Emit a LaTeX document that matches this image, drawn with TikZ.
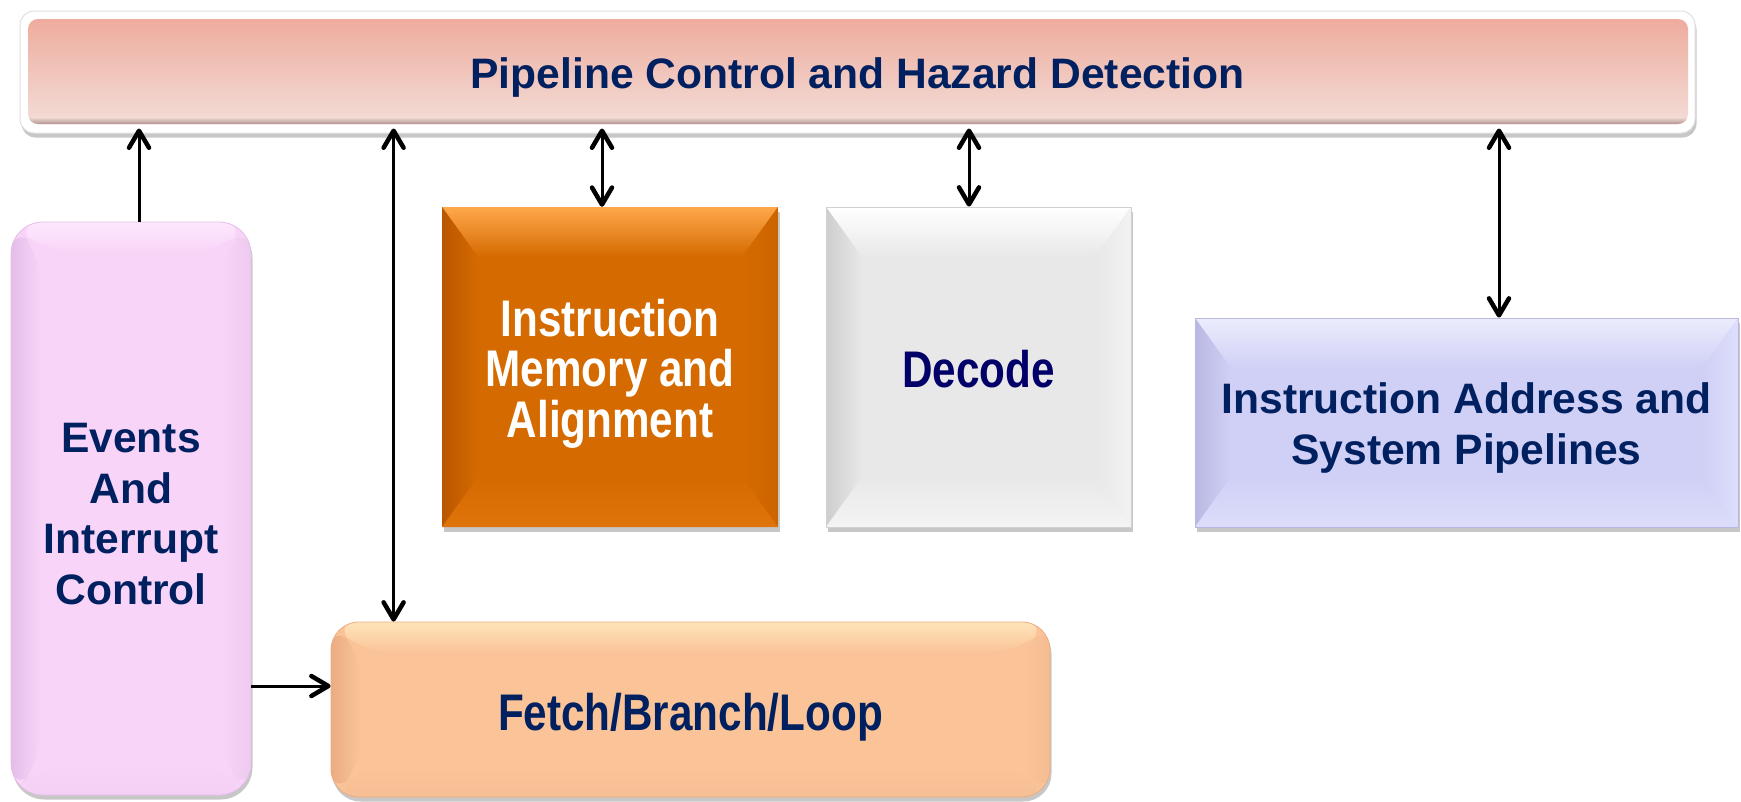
\documentclass[tikz,border=0pt]{standalone}
\usepackage{fontspec}
\setmainfont{Liberation Sans}
\newfontfamily\narrowsans[FakeStretch=0.82]{Liberation Sans}
\usetikzlibrary{arrows.meta,shadows,calc}

\definecolor{navy}{RGB}{0,32,96}
\definecolor{deepnavy}{RGB}{0,0,104}
% control bar
\definecolor{barTop}{RGB}{238,172,158}
\definecolor{barBot}{RGB}{243,221,215}
\definecolor{barRim}{RGB}{178,148,143}
% events
\definecolor{evBase}{RGB}{248,212,248}
\definecolor{evTop}{RGB}{253,232,253}
\definecolor{evLeft}{RGB}{228,190,232}
\definecolor{evRight}{RGB}{238,202,240}
\definecolor{evBot}{RGB}{244,208,244}
% instruction memory
\definecolor{imBase}{RGB}{212,106,0}
\definecolor{imTop}{RGB}{255,168,76}
\definecolor{imLeft}{RGB}{186,86,0}
\definecolor{imRight}{RGB}{204,100,0}
\definecolor{imBot}{RGB}{222,116,10}
% decode
\definecolor{deBase}{RGB}{232,232,232}
\definecolor{deTop}{RGB}{255,255,255}
\definecolor{deLeft}{RGB}{206,206,206}
\definecolor{deRight}{RGB}{242,242,242}
\definecolor{deBot}{RGB}{244,244,244}
% address
\definecolor{adBase}{RGB}{208,208,246}
\definecolor{adTop}{RGB}{236,236,253}
\definecolor{adLeft}{RGB}{184,184,226}
\definecolor{adRight}{RGB}{222,222,252}
\definecolor{adBot}{RGB}{220,220,250}
% fetch
\definecolor{feBase}{RGB}{250,196,152}
\definecolor{feTop}{RGB}{255,228,186}
\definecolor{feLeft}{RGB}{236,172,130}
\definecolor{feRight}{RGB}{245,188,146}
\definecolor{feBot}{RGB}{246,190,148}

% bevelled face: #1,#2 inset; #3 top, #4 left, #5 right, #6 bottom, #7 base colour
\newcommand{\bevelfaces}[7]{%
  \coordinate (bNW) at (path picture bounding box.north west);
  \coordinate (bNE) at (path picture bounding box.north east);
  \coordinate (bSW) at (path picture bounding box.south west);
  \coordinate (bSE) at (path picture bounding box.south east);
  \shade[top color=#3, bottom color=#7]
    (bNW) -- (bNE) -- ($(bNE)+(-#1,#2)$) -- ($(bNW)+(#1,#2)$) -- cycle;
  \shade[left color=#4, right color=#7]
    (bNW) -- ($(bNW)+(#1,#2)$) -- ($(bSW)+(#1,-#2)$) -- (bSW) -- cycle;
  \shade[left color=#7, right color=#5]
    (bNE) -- (bSE) -- ($(bSE)+(-#1,-#2)$) -- ($(bNE)+(-#1,#2)$) -- cycle;
  \shade[top color=#7, bottom color=#6]
    (bSW) -- ($(bSW)+(#1,-#2)$) -- ($(bSE)+(-#1,-#2)$) -- (bSE) -- cycle;
}

% recessed pink panel inside the white frame of the control bar
\newcommand{\barpanel}{%
  \coordinate (pNW) at (path picture bounding box.north west);
  \coordinate (pSE) at (path picture bounding box.south east);
  \coordinate (pSW) at (path picture bounding box.south west);
  \begin{scope}
    \clip[rounded corners=10pt] ($(pNW)+(8,8)$) rectangle ($(pSE)+(-7,-9)$);
    \shade[top color=barTop, bottom color=barBot] ($(pNW)+(0,8)$) rectangle ($(pSE)+(0,-9)$);
    \shade[top color=barBot, bottom color=barRim] ($(pSW)+(0,-16)$) rectangle ($(pSE)+(0,-9)$);
  \end{scope}
}

% tall strut on a first line: sets a label a little lower in its block
\newcommand{\firstline}[1]{\rule{0pt}{#1}}

\tikzset{vbarb/.tip={Straight Barb[length=17pt,width=20pt,line width=4.5pt,round]}}

\begin{document}
\begin{tikzpicture}[x=1pt,y=-1pt,
  lbl/.style={font=\bfseries\fontsize{42.6}{50.6}\selectfont, text=navy, align=center},
  nlbl/.style={font=\narrowsans\bfseries\fontsize{51.5}{50.6}\selectfont, align=center},
  shadebox/.style={inner sep=0pt,
    drop shadow={shadow xshift=1.5pt, shadow yshift=-4.5pt, opacity=0.22, fill=black}},
  link/.style={line width=3pt, -vbarb},
  dlink/.style={line width=3pt, vbarb-vbarb},
]
\useasboundingbox (0,0) rectangle (1741,801);

% blocks
\node[shadebox, rounded corners=14pt, fill=white, draw=black!12, line width=1pt,
  minimum width=1675pt, minimum height=122pt, lbl,
  path picture={\barpanel}] (bar) at (857.5,72)
  {\firstline{42pt}Pipeline Control and Hazard Detection};

\node[shadebox, rounded corners=32pt, fill=evBase, draw=evLeft, line width=0.8pt,
  minimum width=240pt, minimum height=573pt, lbl,
  path picture={\bevelfaces{30}{30}{evTop}{evLeft}{evRight}{evBot}{evBase}}]
  (ev) at (131,508.5) {\firstline{40pt}Events\\And\\Interrupt\\Control};

\node[shadebox, fill=imBase, minimum width=336pt, minimum height=320pt, nlbl, text=white,
  path picture={\bevelfaces{36}{50}{imTop}{imLeft}{imRight}{imBot}{imBase}}]
  (im) at (610,367) {\firstline{50.5pt}Instruction\\Memory and\\Alignment};

\node[shadebox, fill=deBase, draw=black!18, line width=0.8pt,
  minimum width=305pt, minimum height=320pt, nlbl, text=deepnavy,
  path picture={\bevelfaces{36}{50}{deTop}{deLeft}{deRight}{deBot}{deBase}}]
  (de) at (978.5,367) {\firstline{42pt}Decode};

\node[shadebox, fill=adBase, draw=adLeft, line width=0.8pt,
  minimum width=543pt, minimum height=209pt, lbl,
  path picture={\bevelfaces{36}{50}{adTop}{adLeft}{adRight}{adBot}{adBase}}]
  (ad) at (1466.5,422.5) {\firstline{42pt}Instruction Address and\\System Pipelines};

\node[shadebox, rounded corners=28pt, fill=feBase, draw=feLeft, line width=0.8pt,
  minimum width=719pt, minimum height=175pt, nlbl, text=navy,
  path picture={\bevelfaces{30}{30}{feTop}{feLeft}{feRight}{feBot}{feBase}}]
  (fe) at (690.5,709.5) {\firstline{53pt}Fetch/Branch/Loop};

% connectors
\coordinate (rim) at ([yshift=5pt]bar.south);
\coordinate (a1) at ([xshift=8pt]ev.north);
\coordinate (a2) at ([xshift=63pt]fe.north west);
\coordinate (a3) at ([xshift=-8pt]im.north);
\coordinate (a4) at ([xshift=-9.5pt]de.north);
\coordinate (a5) at ([xshift=32.5pt]ad.north);
\coordinate (a6) at ([yshift=23.5pt]fe.west);

\draw[link]  (a1) -- (a1 |- rim);
\draw[dlink] (a2 |- rim) -- (a2);
\draw[dlink] (a3 |- rim) -- (a3);
\draw[dlink] (a4 |- rim) -- (a4);
\draw[dlink] (a5 |- rim) -- (a5);
\draw[link]  (a6 -| ev.east) -- (a6);
\end{tikzpicture}
\end{document}
